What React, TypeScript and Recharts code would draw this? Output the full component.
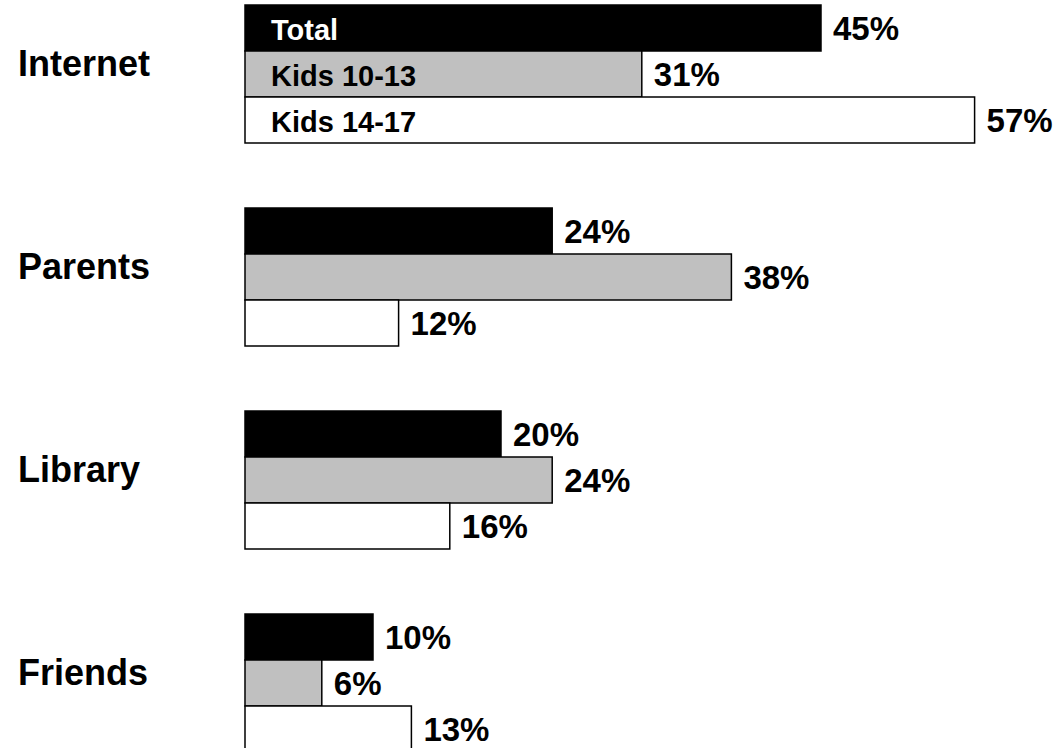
import React from 'react';
import { BarChart, Bar, XAxis, YAxis, LabelList } from 'recharts';

const categories = ['Internet', 'Parents', 'Library', 'Friends'];
const seriesNames = ['Total', 'Kids 10-13', 'Kids 14-17'];
const totalValues = [45, 24, 20, 10];
const kids1013Values = [31, 38, 24, 6];
const kids1417Values = [57, 12, 16, 13];

const data = categories.map((name, i) => ({
  name,
  total: totalValues[i],
  kids1013: kids1013Values[i],
  kids1417: kids1417Values[i],
}));

const FONT = '"Liberation Sans", Arial, Helvetica, sans-serif';

const CategoryTick = (props: any) => {
  const { y, payload } = props;
  return (
    <text x={18} y={Number(y) - 10} dy="0.36em" fontFamily={FONT} fontWeight="bold" fontSize={36} fill="#000" textAnchor="start">
      {payload.value}
    </text>
  );
};

const makeNameLabel = (label: string, color: string) => (props: any) => {
  const { x, y, height, index } = props;
  if (index !== 0) return null;
  return (
    <text x={Number(x) + 26} y={Number(y) + Number(height) / 2 + 2} dy="0.36em" fontFamily={FONT} fontWeight="bold" fontSize={29} fill={color} textAnchor="start">
      {label}
    </text>
  );
};

const ValueLabel = (props: any) => {
  const { x, y, width, height, value } = props;
  return (
    <text x={Number(x) + Number(width) + 12} y={Number(y) + Number(height) / 2 + 0.5} dy="0.36em" fontFamily={FONT} fontWeight="bold" fontSize={33} fill="#000" textAnchor="start">
      {value + '%'}
    </text>
  );
};

export default function App() {
  return (
    <div style={{ position: 'absolute', left: 0, top: 0, width: 1059, height: 748, overflow: 'hidden', background: '#fff' }}>
      <div style={{ position: 'absolute', left: 0, top: -28 }}>
        <BarChart
          width={1059}
          height={812}
          data={data}
          layout="vertical"
          margin={{ top: 0, right: 46, left: 0, bottom: 0 }}
          barCategoryGap={33}
          barGap={0}
        >
          <XAxis type="number" domain={[0, 60]} hide />
          <YAxis type="category" dataKey="name" width={245} axisLine={false} tickLine={false} tick={CategoryTick} interval={0} />
          <Bar dataKey="total" fill="#000000" stroke="#000000" strokeWidth={1.5} isAnimationActive={false}>
            <LabelList dataKey="total" content={ValueLabel} />
            <LabelList dataKey="total" content={makeNameLabel(seriesNames[0], '#ffffff')} />
          </Bar>
          <Bar dataKey="kids1013" fill="#c0c0c0" stroke="#000000" strokeWidth={1.5} isAnimationActive={false}>
            <LabelList dataKey="kids1013" content={ValueLabel} />
            <LabelList dataKey="kids1013" content={makeNameLabel(seriesNames[1], '#000000')} />
          </Bar>
          <Bar dataKey="kids1417" fill="#ffffff" stroke="#000000" strokeWidth={1.5} isAnimationActive={false}>
            <LabelList dataKey="kids1417" content={ValueLabel} />
            <LabelList dataKey="kids1417" content={makeNameLabel(seriesNames[2], '#000000')} />
          </Bar>
        </BarChart>
      </div>
    </div>
  );
}
